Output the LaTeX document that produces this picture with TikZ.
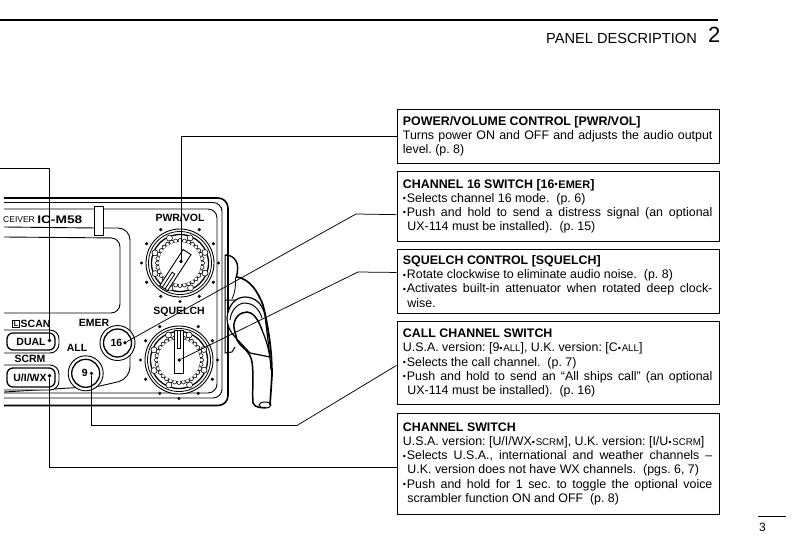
\documentclass[tikz,border=0pt]{standalone}
\usepackage{fontspec}
\setmainfont{Liberation Sans}
\newcommand{\sm}[1]{{\fontsize{9.7}{12}\selectfont #1}}
\newcommand{\jl}[1]{\leavevmode\hbox to 309.5pt{\spaceskip=0pt\xspaceskip=0pt #1}}
\newcommand{\ttl}[1]{{\bfseries #1}}
\newcommand{\bl}{\raisebox{0.5pt}{\fontsize{9}{9}\selectfont •}\kern0.8pt}
\newcommand{\jb}[1]{\leavevmode\bl\hbox to 305.5pt{\spaceskip=0pt\xspaceskip=0pt #1}}
\begin{document}
\frenchspacing
\begin{tikzpicture}[x=1pt,y=-1pt]
	\tikzset{descbox/.style={draw,line width=0.9pt,anchor=north west,inner xsep=6pt,inner ysep=0pt,text width=310pt,align=left,font=\fontsize{12.4}{14.2}\selectfont,execute at begin node={\spaceskip=0pt\xspaceskip=0pt}},
		lead/.style={draw,line width=0.75pt},
		dot/.style={circle,fill=black,inner sep=0pt,minimum size=3.6pt},
		panel/.style={font=\fontsize{10.5}{12}\bfseries\selectfont,inner sep=0pt},
		body/.style={line width=0.9pt,rounded corners=9pt}}
	\useasboundingbox (0,0) rectangle (793,554);
	\draw[line width=2pt] (0,19.5) -- (718,19.5);
	\node[anchor=base east,font=\fontsize{14.6}{16}\selectfont,inner sep=0pt] (head) at (697,43) {PANEL DESCRIPTION};
	\node[anchor=base west,font=\fontsize{22}{24}\selectfont,inner sep=0pt] (chap) at (708,42) {2};
	\draw[line width=0.8pt] (758,516) -- (786,516);
	\node[anchor=base west,font=\fontsize{12}{14}\selectfont,inner sep=0pt] (page) at (759,531) {3};
	\draw[line width=1.6pt,rounded corners=10pt] (4,198) -- (228,198) -- (228,405.5) -- (4,405.5);
	\draw[body] (4,202.5) -- (222,202.5) -- (222,398) -- (4,398);
	\draw[body] (4,209) -- (217,209) -- (217,393) -- (4,393);
	\draw[body,rounded corners=12pt] (4,227) -- (94,228) -- (130,228) -- (130,379) -- (100,386);
	\draw[line width=0.9pt] (100,386) -- (70,388) -- (4,392);
	\draw[body] (4,237) -- (120,238) -- (120,313) -- (4,313);
	\draw[line width=0.9pt,fill=white] (94.5,206) rectangle (103,235);
	\node[anchor=base west,font=\fontsize{8.5}{10}\selectfont,inner sep=0pt] (model) at (3,222) {CEIVER};
	\node[anchor=base west,font=\fontsize{11}{12}\bfseries\selectfont,inner sep=0pt,xscale=1.25] (name) at (37,223) {IC-M58};
	\foreach \kx/\ky/\krot in {180/263/147, 179/360/0}{
		\begin{scope}[shift={(\kx,\ky)}]
			\foreach \a in {0,30,...,240,300,330}{
				\fill (\a:38.5) circle (1.7pt);
			}
			\draw[line width=0.9pt,fill=white] (0,0) circle (34);
			\draw[line width=0.8pt] (0,0) circle (31.5);
			\draw[line width=1.3pt] (0,0) circle (28.5);
			\foreach \a in {0,45,...,315}{
				\draw[line width=0.6pt,fill=white] (\a+22:27) circle (3);
			}
			\foreach \a in {0,11.25,...,349}{
				\draw[line width=0.6pt,fill=white] (\a:22.5) circle (2);
			}
			\fill[white] (0,0) circle (21);
			\begin{scope}[rotate=\krot]
				\draw[line width=0.9pt,fill=white] (-4.7,-30) rectangle (4.7,13);
				\draw[line width=0.8pt] (-1.6,-30) -- (-1.6,-12) -- (1.6,-12) -- (1.6,-30);
			\end{scope}
		\end{scope}
	}
	\node[panel] (lpwr) at (180,218) {PWR/VOL};
	\node[panel] (lsql) at (179,312) {SQUELCH};
	\node[panel] (lemer) at (94,323) {EMER};
	\node[panel] (lall) at (77,348) {ALL};
	\node[panel] (lscrm) at (30,358.5) {SCRM};
	\node[panel,anchor=west] (lscan) at (20.5,324) {SCAN};
	\node[draw,line width=0.7pt,inner sep=0pt,minimum size=7.5pt,font=\fontsize{7}{8}\bfseries\selectfont,anchor=east] (licon) at (20,324) {L};
	\foreach \bx/\by/\bn/\blab in {117.5/343/bemer/16, 85.7/373.3/ball/9}{
		\node[circle,draw,fill=white,line width=0.9pt,minimum size=35pt,inner sep=0pt] (\bn) at (\bx,\by) {};
		\node[circle,draw,line width=1.3pt,minimum size=28pt,inner sep=0pt,panel] (\bn i) at (\bx,\by) {\hspace*{-2pt}\blab};
	}
	\draw[line width=0.9pt,fill=white,rounded corners=9pt] (4,330) -- (59,330) -- (59,353) -- (4,353);
	\draw[line width=1.3pt,rounded corners=6pt] (7,333) rectangle (55,350);
	\node[panel] (ldual) at (31,342) {DUAL};
	\draw[line width=0.9pt,fill=white,rounded corners=9pt] (4,365) -- (59,365) -- (59,390) -- (4,390);
	\draw[line width=1.3pt,rounded corners=6pt] (7,368) rectangle (55,387);
	\node[panel] (lwx) at (30,377.5) {U/I/WX};
	\draw[line width=1pt] (225,255) -- (225,353) -- (232,352) -- (235,347);
	\draw[line width=1.4pt] (225,255) .. controls (234,255) and (241,262) .. (236,278);
	\draw[line width=0.8pt] (235.5,278) .. controls (236,285) and (235,293) .. (232,299);
	\draw[line width=1.7pt] (237,277) .. controls (250,279) and (258,292) .. (263,305) .. controls (268,325) and (272,350) .. (272,375) -- (270,405);
	\draw[line width=1pt] (225,300) -- (255,300) -- (265,313);
	\draw[line width=1.2pt,fill=white] (235,337) .. controls (230,332) and (227,325) .. (227,318) .. controls (228,305) and (236,297) .. (245,297) .. controls (254,297) and (263,303) .. (265,316) -- (270,357) -- (250,353) -- cycle;
	\draw[line width=1pt] (230,320) .. controls (231,310) and (238,303) .. (245,303) .. controls (252,303) and (259,308) .. (262,318);
	\draw[line width=1.5pt] (262,330) .. controls (258,318) and (252,312) .. (247,312) .. controls (240,312) and (233,318) .. (234,328) -- (237,340) .. controls (241,348) and (250,350) .. (252,362) .. controls (254,375) and (252,390) .. (253,403) .. controls (255,408) and (262,408) .. (266,407.5);
	\draw[line width=1.2pt] (262,330) .. controls (266,340) and (270,350) .. (271,370);
	\draw[line width=1pt] (265,405) ellipse (6 and 3);
	\node[descbox,minimum height=54.5pt] (pwr) at (396.5,108.7) {\ttl{POWER/VOLUME CONTROL [PWR/VOL]}\\
		\jl{Turns power ON and OFF and adjusts the audio output}\\
		level. (p. 8)};
	\node[descbox,minimum height=70pt] (emer) at (396.5,170.7) {\ttl{CHANNEL 16 SWITCH [16\bl{\fontsize{11}{12}\selectfont EMER}]}\\
		\bl Selects channel 16 mode.\ \ (p. 6)\\
		\jb{Push and hold to send a distress signal (an optional}\\
		\hspace*{4.5pt}UX-114 must be installed).\ \ (p. 15)};
	\node[descbox,minimum height=64pt] (sql) at (396.5,249) {\ttl{SQUELCH CONTROL [SQUELCH]}\\
		\bl Rotate clockwise to eliminate audio noise.\ \ (p. 8)\\
		\jb{Activates built-in attenuator when rotated deep clock-}\\
		\hspace*{4.5pt}wise.};
	\node[descbox,minimum height=83.3pt] (call) at (396.5,321) {\ttl{CALL CHANNEL SWITCH}\\
		U.S.A. version: [9\bl\sm{ALL}], U.K. version: [C\bl\sm{ALL}]\\
		\bl Selects the call channel.\ \ (p. 7)\\
		\jb{Push and hold to send an “All ships call” (an optional}\\
		\hspace*{4.5pt}UX-114 must be installed).\ \ (p. 16)};
	\node[descbox,minimum height=101.3pt] (chan) at (396.5,412.7) {\ttl{CHANNEL SWITCH}\\
		U.S.A. version: [U/I/WX\bl\sm{SCRM}], U.K. version: [I/U\bl\sm{SCRM}]\\
		\jb{Selects U.S.A., international and weather channels –}\\
		\hspace*{4.5pt}U.K. version does not have WX channels.\ \ (pgs. 6, 7)\\
		\jb{Push and hold for 1 sec. to toggle the optional voice}\\
		\hspace*{4.5pt}scrambler function ON and OFF\ \ (p. 8)};
	\node[dot] (dpwr) at (181,261.5) {};
	\node[dot] (demer) at (125,342.7) {};
	\node[dot] (dsql) at (179.3,360) {};
	\node[dot] (dall) at (91.5,373.3) {};
	\node[dot] (dwx) at (49.5,375.7) {};
	\node[dot] (ddual) at (49.5,340.5) {};
	\coordinate (kemer) at (356,214);
	\coordinate (ksql) at (358,272);
	\coordinate (kall) at (297,425.5);
	\coordinate (kdual) at (0,168.5);
	\draw[lead] (pwr.west) -| (dpwr);
	\draw[lead] ([yshift=-8.5pt]emer.west) -- (kemer) -- (demer);
	\draw[lead] ([yshift=9pt]sql.west) -- (ksql) -- (dsql);
	\draw[lead] ([yshift=-2.3pt]call.west) -- (kall) -| (dall);
	\draw[lead] ([yshift=-3.5pt]chan.west) -| (dwx);
	\draw[lead] (kdual) -| (ddual);
\end{tikzpicture}
\end{document}
